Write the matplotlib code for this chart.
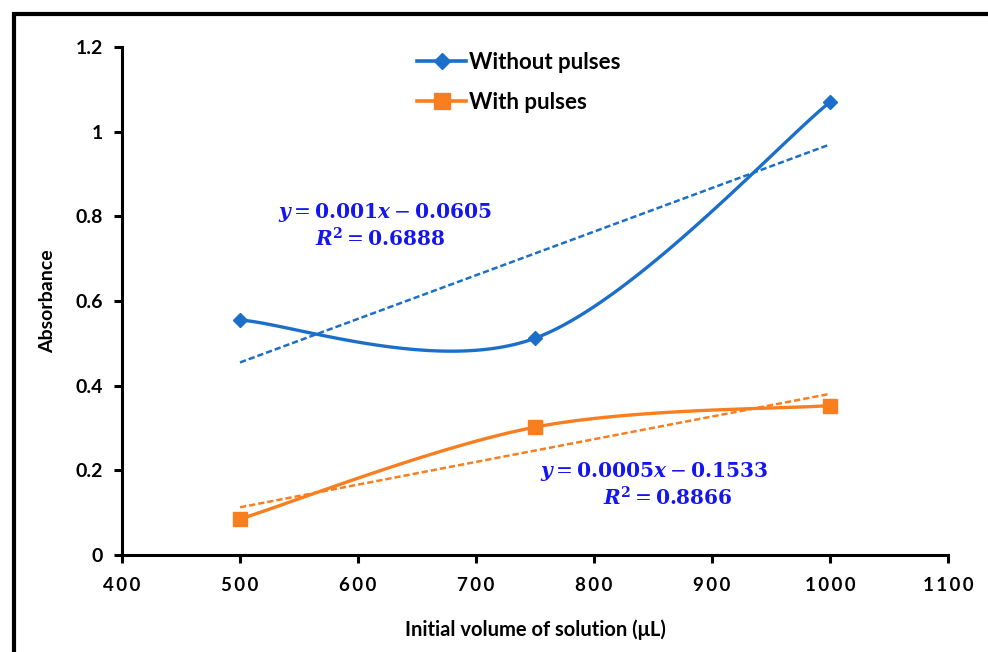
import numpy as np
import matplotlib
matplotlib.use("Agg")
import matplotlib.pyplot as plt
from matplotlib.patches import Rectangle
from matplotlib.lines import Line2D

volumes = [500, 750, 1000]
without_pulses = [0.555, 0.512, 1.07]
with_pulses = [0.085, 0.302, 0.353]
x_ticks = [400, 500, 600, 700, 800, 900, 1000, 1100]
y_ticks = [0, 0.2, 0.4, 0.6, 0.8, 1.0, 1.2]
y_tick_labels = ["0", "0.2", "0.4", "0.6", "0.8", "1", "1.2"]

BLUE = "#1C6FC9"
ORANGE = "#F97E1F"
EQ_COLOR = "#1515F0"

plt.rcParams['font.family'] = ['Lato', 'DejaVu Sans']
plt.rcParams['mathtext.fontset'] = 'dejavuserif'


def smooth(xs, ys, n=60):
    P = np.column_stack([xs, ys]).astype(float)
    ext = np.vstack([P[0], P, P[-1]])
    out = []
    for i in range(len(P) - 1):
        p0, p1, p2, p3 = ext[i], ext[i + 1], ext[i + 2], ext[i + 3]
        c1 = p1 + (p2 - p0) / 6.0
        c2 = p2 - (p3 - p1) / 6.0
        t = np.linspace(0, 1, n)[:, None]
        seg = ((1 - t) ** 3) * p1 + 3 * ((1 - t) ** 2) * t * c1 + 3 * (1 - t) * t ** 2 * c2 + t ** 3 * p2
        out.append(seg if i == 0 else seg[1:])
    arr = np.vstack(out)
    return arr[:, 0], arr[:, 1]


fig = plt.figure(figsize=(9.88, 6.52), dpi=100)
ax = fig.add_axes([0.1235, 0.1488, 0.836, 0.7791])

for ys, col, mk, ms in [(without_pulses, BLUE, 'D', 7.5), (with_pulses, ORANGE, 's', 10)]:
    sx, sy = smooth(volumes, ys)
    ax.plot(sx, sy, color=col, lw=2.4, zorder=3)
    ax.plot(volumes, ys, ls='none', marker=mk, ms=ms, color=col, zorder=4)
    k, b = np.polyfit(volumes, ys, 1)
    xx = np.array([volumes[0], volumes[-1]])
    ax.plot(xx, k * xx + b, ls=(0, (2.5, 1.2)), lw=1.8, color=col, zorder=2)

ax.set_xlim(400, 1100)
ax.set_ylim(0, 1.2)
ax.set_xticks(x_ticks)
ax.set_xticklabels(["\u2009".join(str(v)) for v in x_ticks])
ax.set_yticks(y_ticks)
ax.set_yticklabels(y_tick_labels)
for lab in ax.get_yticklabels():
    lab.set_fontweight('bold')
    lab.set_fontsize(14)
for lab in ax.get_xticklabels():
    lab.set_fontweight('bold')
    lab.set_fontsize(13.5)

ax.spines['top'].set_visible(False)
ax.spines['right'].set_visible(False)
for s in ['left', 'bottom']:
    ax.spines[s].set_linewidth(2.2)
ax.tick_params(axis='both', direction='out', length=6, width=2.2, pad=8)
ax.tick_params(axis='x', pad=10)

ax.set_xlabel("Initial volume of solution (μL)", fontsize=14.5, fontweight='bold', labelpad=18)
ax.set_ylabel("Absorbance", fontsize=14, fontweight='bold', labelpad=14)

ax.text(623, 0.808, r'$\mathbfit{y} = \mathbf{0.001}\mathbfit{x} - \mathbf{0.0605}$',
        color=EQ_COLOR, fontsize=14.5, ha='center', va='center')
ax.text(619, 0.749, r'$\mathbfit{R}^{\mathbf{2}} = \mathbf{0.6888}$',
        color=EQ_COLOR, fontsize=14.5, ha='center', va='center')
ax.text(851, 0.198, r'$\mathbfit{y} = \mathbf{0.0005}\mathbfit{x} - \mathbf{0.1533}$',
        color=EQ_COLOR, fontsize=14.5, ha='center', va='center')
ax.text(862, 0.137, r'$\mathbfit{R}^{\mathbf{2}} = \mathbf{0.8866}$',
        color=EQ_COLOR, fontsize=14.5, ha='center', va='center')

handles = [Line2D([], [], color=BLUE, lw=2.6, marker='D', ms=8),
           Line2D([], [], color=ORANGE, lw=2.6, marker='s', ms=11)]
leg = ax.legend(handles, ["Without pulses", "With pulses"], loc='upper left',
                bbox_to_anchor=(0.333, 1.03), frameon=False, handlelength=2.2,
                handletextpad=0.15, labelspacing=0.85, prop={'weight': 'bold', 'size': 16})

fig.add_artist(Rectangle((14 / 988, -0.1), 1.2, (652 - 14) / 652 + 0.1,
                         transform=fig.transFigure, fill=False, lw=3, ec='black'))

fig.savefig("out.png", dpi=100)
